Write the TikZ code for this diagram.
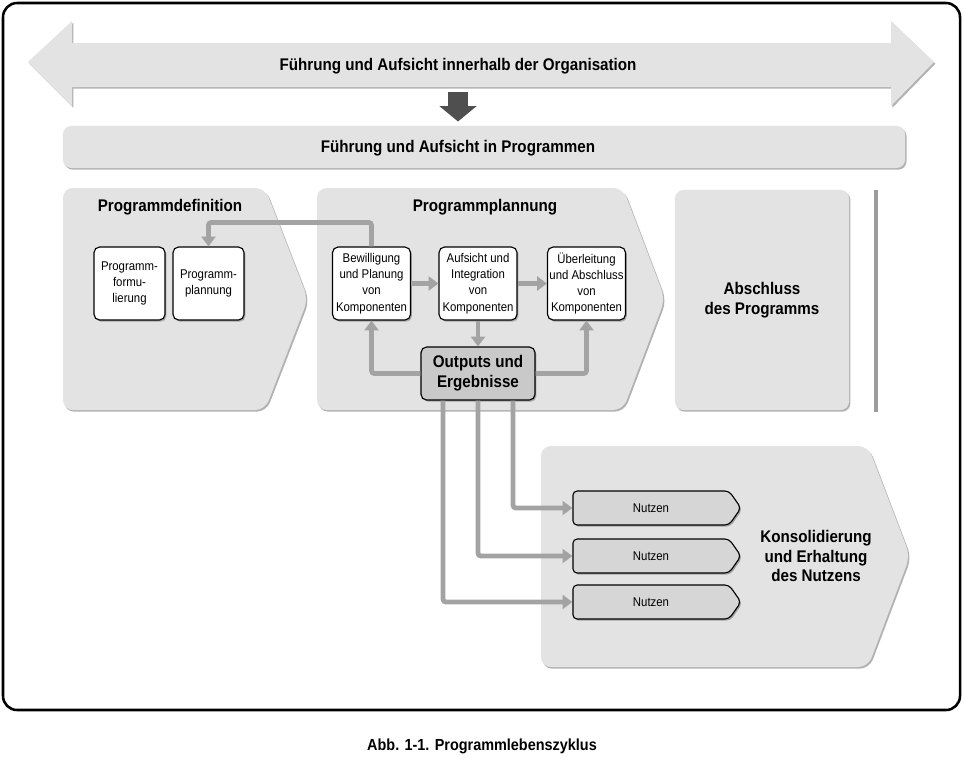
\documentclass[tikz,border=0pt]{standalone}
\usepackage{fontspec}
\setmainfont{Liberation Sans}[FakeStretch=0.9]
\usetikzlibrary{positioning,calc,arrows.meta,shadows,shapes.symbols}

\definecolor{panelgray}{HTML}{E3E3E4}
\definecolor{flowgray}{HTML}{A3A3A3}
\definecolor{darkarrow}{HTML}{4F4F4F}
\definecolor{outgray}{HTML}{C9C9C9}
\definecolor{benefitgray}{HTML}{D6D6D6}
\definecolor{sepgray}{HTML}{9C9C9C}

\begin{document}
\begin{tikzpicture}[
    x=0.025cm, y=-0.025cm,
    softshadow/.style={drop shadow={shadow xshift=1pt, shadow yshift=-1.2pt, fill=black!60}},
    phase/.style={fill=panelgray, rounded corners=7pt, softshadow},
    bigtxt/.style={font=\fontsize{12}{14}\selectfont\bfseries, align=center, inner sep=0pt},
    task/.style={rectangle, draw=black, line width=0.8pt, rounded corners=4pt, fill=white,
      font=\fontsize{9}{11.5}\selectfont, align=center, inner sep=0pt,
      minimum width=1.95cm, minimum height=1.825cm, softshadow},
    smalltask/.style={task, minimum width=1.775cm},
    benefit/.style={signal, signal to=east, signal pointer angle=110, draw=black, line width=0.8pt,
      rounded corners=3pt, fill=benefitgray, font=\fontsize{9}{11}\selectfont,
      minimum width=4.2cm, minimum height=0.85cm, inner sep=0pt, softshadow},
    flow/.style={draw=flowgray, line width=3.4pt, rounded corners=2pt,
      -{Triangle[length=7pt,width=10pt]}}
  ]
    \useasboundingbox (0,0) rectangle (964,757);
    \draw[line width=1.8pt, rounded corners=10pt] (3,3) rectangle (960,710);

    % --- Governance on organisation level ---
    \path[phase, rounded corners=0pt] (28,62) -- (72,21) -- (72,43) -- (891,43) -- (891,21)
      -- (934,62) -- (891,106) -- (891,87) -- (72,87) -- (72,106) -- cycle;
    \node[bigtxt] (orggov) at (458,66) {Führung und Aufsicht innerhalb der Organisation};
    \coordinate (govbot) at (458,92);

    \node[fill=panelgray, rounded corners=6pt, softshadow, minimum width=21.05cm,
      minimum height=1.05cm] (progbar) at (484,147) {};
    \node[bigtxt] (proggov) at (458,148) {Führung und Aufsicht in Programmen};
    \draw[darkarrow, line width=14pt, shorten >=3pt, -{Triangle[length=11pt,width=26pt]}]
      (govbot) -- (govbot |- progbar.north);

    % --- Phase: Programmdefinition ---
    \path[phase] (63,188) -- (265,188) -- (308,299) -- (265,410) -- (63,410) -- cycle;
    \node[bigtxt] (defttl) at (170,207) {Programmdefinition};
    \node[smalltask] (pform) at (129.5,283.5) {Programm-\\formu-\\lierung};
    \node[smalltask] (pplan) at (208.5,283.5) {Programm-\\plannung};

    % --- Phase: Programmplannung ---
    \path[phase] (317,188) -- (623,188) -- (665,299) -- (623,410) -- (317,410) -- cycle;
    \node[bigtxt] (planttl) at (485,207) {Programmplannung};
    \node[task] (bewill) at (371.5,283.5) {Bewilligung\\und Planung\\von\\Komponenten};
    \node[task] (integ) at (478,283.5) {Aufsicht und\\Integration\\von\\Komponenten};
    \node[task] (uebe) at (586.5,283.5) {Überleitung\\und Abschluss\\von\\Komponenten};
    \node[task, fill=outgray, font=\fontsize{12}{14}\selectfont\bfseries,
      minimum width=2.85cm, minimum height=1.325cm] (outp) at (478,373.5) {Outputs und\\Ergebnisse};

    % --- Phase: Abschluss ---
    \node[bigtxt, fill=panelgray, rounded corners=6pt, softshadow, minimum width=4.35cm,
      minimum height=5.5cm] (closing) at (762,300) {Abschluss\\des Programms};
    \draw[sepgray, line width=3pt] (876,190) -- (876,412);

    % --- Benefits ---
    \path[phase] (541,446) -- (868,446) -- (910,556) -- (868,667) -- (541,667) -- cycle;
    \node[bigtxt] (consol) at (816,556) {Konsolidierung\\und Erhaltung\\des Nutzens};
    \node[benefit] (ben1) at (651,508) {Nutzen};
    \node[benefit] (ben2) at (651,556) {Nutzen};
    \node[benefit] (ben3) at (651,602) {Nutzen};

    % --- Flows ---
    \draw[flow] (bewill.north) -- ++(0,-24) -| (pplan.north);
    \draw[flow] (bewill) -- (integ);
    \draw[flow] (integ) -- (uebe);
    \draw[flow] (integ) -- (outp);
    \draw[flow] (outp) -| (bewill);
    \draw[flow] (outp) -| (uebe);
    \draw[flow] ($(outp.south)+(35,0)$) |- (ben1);
    \draw[flow] (outp.south) |- (ben2);
    \draw[flow] ($(outp.south)+(-35,0)$) |- (ben3);

    \node[font=\fontsize{11.4}{13}\selectfont\bfseries] (caption) at (482,746) {Abb. 1-1. Programmlebenszyklus};
\end{tikzpicture}
\end{document}
